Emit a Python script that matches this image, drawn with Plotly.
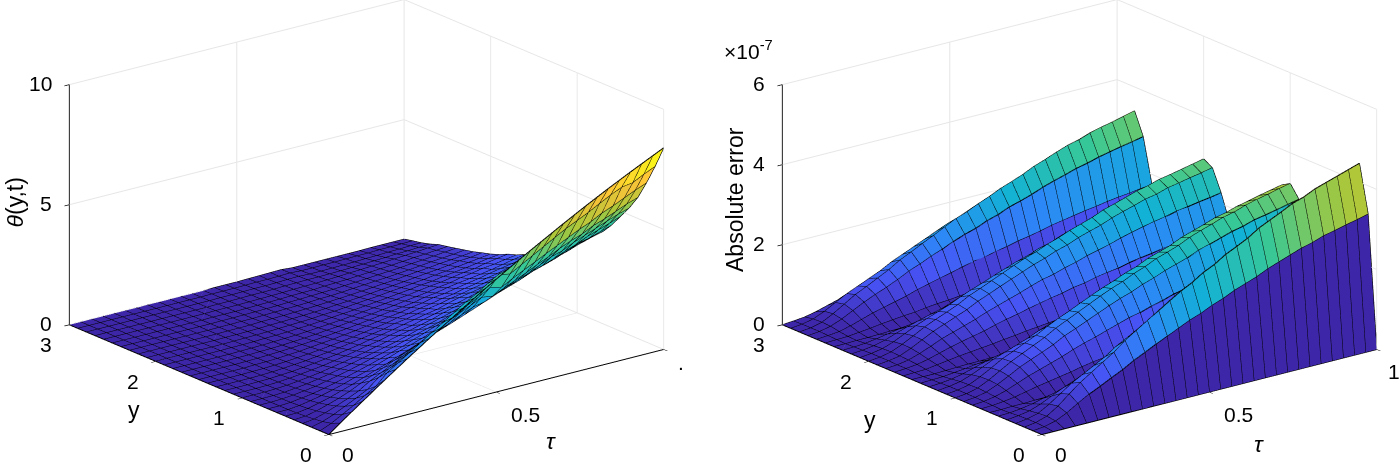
import numpy as np
import plotly.graph_objects as go

tau = [0, 0.0333, 0.0667, 0.1, 0.1333, 0.1667, 0.2, 0.2333, 0.2667, 0.3, 0.3333, 0.3667, 0.4, 0.4333, 0.4667, 0.5,
       0.5333, 0.5667, 0.6, 0.6333, 0.6667, 0.7, 0.7333, 0.7667, 0.8, 0.8333, 0.8667, 0.9, 0.9333, 0.9667, 1]
y = [0, 0.1, 0.2, 0.3, 0.4, 0.5, 0.6, 0.7, 0.8, 0.9, 1, 1.1, 1.2, 1.3, 1.4, 1.5,
     1.6, 1.7, 1.8, 1.9, 2, 2.1, 2.2, 2.3, 2.4, 2.5, 2.6, 2.7, 2.8, 2.9, 3]

# theta(y,t): one row per tau, one column per y
theta = [
    [0]*31,
    [.35,.19,.11,.06,.03,.01]+[0]*25,
    [.69,.44,.29,.2,.13,.08,.05,.03,.02,.01]+[0]*21,
    [1.02,.7,.51,.37,.27,.19,.13,.09,.06,.03,.02,.01,.01]+[0]*18,
    [1.35,.99,.73,.55,.42,.31,.23,.16,.12,.08,.05,.03,.02,.01,.01]+[0]*16,
    [1.68,1.26,.97,.76,.6,.46,.35,.26,.19,.14,.1,.07,.05,.03,.02,.02,.01,.01]+[0]*13,
    [2.0,1.7,1.35,1.05,.82,.61,.48,.37,.29,.22,.16,.12,.08,.06,.04,.03,.02,.01,.01,.01]+[0]*11,
    [2.32,2.0,1.62,1.28,1.02,.78,.63,.49,.39,.31,.23,.18,.13,.1,.07,.05,.04,.03,.02,.01,.01,.01]+[0]*9,
    [2.63,2.3,1.88,1.5,1.22,.95,.76,.62,.5,.41,.32,.24,.19,.14,.11,.08,.06,.04,.03,.02,.02,.01,.01,.01]+[0]*7,
    [2.94,2.6,2.12,1.75,1.42,1.1,.93,.75,.62,.51,.41,.32,.25,.2,.15,.11,.09,.06,.05,.04,.03,.02,.01,.01,.01,.01]+[0]*5,
    [3.24,2.9,2.38,2.0,1.62,1.28,1.09,.89,.75,.62,.5,.41,.32,.26,.2,.16,.12,.09,.07,.05,.04,.03,.02,.02,.01,.01,.01]+[0]*4,
    [3.54,3.2,2.66,2.25,1.82,1.45,1.26,1.03,.87,.73,.6,.5,.4,.32,.26,.21,.16,.12,.09,.07,.06,.05,.04,.02,.02,.01,.01,.01]+[0]*3,
    [3.84,3.5,2.92,2.5,2.05,1.63,1.4,1.17,1.0,.84,.71,.6,.48,.4,.32,.26,.21,.16,.12,.1,.08,.06,.05,.04,.03,.02,.01,.01,.01,.01,0],
    [4.13,3.8,3.18,2.72,2.22,1.82,1.55,1.34,1.14,.95,.81,.68,.58,.47,.38,.32,.26,.21,.16,.12,.1,.08,.06,.05,.04,.03,.02,.02,.01,.01,.01],
    [4.42,4.05,3.45,2.95,2.42,1.99,1.72,1.5,1.28,1.08,.93,.8,.66,.55,.46,.38,.31,.25,.2,.16,.12,.1,.08,.07,.05,.04,.03,.03,.02,.01,.01],
    [4.7,4.35,3.68,3.15,2.62,2.16,1.88,1.67,1.41,1.22,1.03,.89,.75,.63,.53,.45,.37,.31,.24,.2,.16,.12,.1,.08,.07,.05,.04,.03,.03,.02,.01],
    [4.98,4.62,3.95,3.38,2.82,2.34,2.04,1.82,1.54,1.34,1.15,.97,.85,.75,.61,.52,.43,.36,.29,.24,.19,.15,.12,.1,.08,.07,.05,.04,.03,.03,.02],
    [5.25,4.54,3.83,3.31,2.91,2.52,2.2,1.94,1.71,1.47,1.26,1.1,.95,.81,.71,.59,.5,.41,.35,.28,.23,.19,.15,.13,.1,.08,.07,.06,.04,.03,.03],
    [5.52,4.8,4.08,3.53,3.09,2.7,2.37,2.1,1.85,1.6,1.41,1.21,1.05,.91,.77,.66,.57,.47,.4,.33,.28,.22,.18,.14,.12,.09,.08,.07,.06,.04,.04],
    [5.78,5.06,4.31,3.73,3.29,2.89,2.54,2.25,2.02,1.73,1.53,1.33,1.13,1.01,.87,.75,.62,.53,.46,.38,.32,.26,.21,.17,.14,.12,.09,.08,.07,.06,.05],
    [6.04,5.32,4.53,3.93,3.47,3.05,2.72,2.39,2.14,1.87,1.63,1.42,1.27,1.09,.94,.82,.69,.6,.51,.43,.36,.3,.25,.21,.17,.14,.11,.08,.05,.03,.01],
    [6.3,5.58,4.76,4.16,3.65,3.21,2.87,2.55,2.3,1.98,1.76,1.54,1.39,1.2,1.04,.93,.79,.66,.57,.49,.42,.35,.29,.24,.2,.16,.13,.09,.05,.03,.01],
    [6.55,5.83,4.98,4.36,3.86,3.41,3.01,2.69,2.42,2.16,1.9,1.67,1.47,1.28,1.11,.98,.85,.73,.64,.54,.46,.39,.33,.28,.23,.19,.16,.1,.06,.04,.01],
    [6.8,6.05,5.2,4.59,4.08,3.57,3.2,2.86,2.55,2.28,2.04,1.8,1.56,1.39,1.22,1.07,.95,.82,.71,.61,.52,.44,.37,.31,.27,.22,.18,.12,.07,.04,.01],
    [7.04,6.27,5.42,4.79,4.22,3.73,3.34,3.03,2.71,2.46,2.15,1.9,1.69,1.48,1.3,1.16,1.03,.88,.76,.65,.56,.49,.42,.35,.3,.25,.21,.14,.08,.05,.01],
    [7.28,6.52,5.61,4.95,4.44,3.93,3.49,3.13,2.84,2.58,2.26,2.04,1.78,1.6,1.42,1.24,1.09,.98,.84,.73,.63,.55,.47,.39,.33,.28,.23,.16,.1,.06,.01],
    [7.51,6.76,5.86,5.18,4.62,4.09,3.68,3.3,2.97,2.7,2.4,2.14,1.92,1.69,1.5,1.34,1.16,1.05,.92,.79,.68,.59,.51,.44,.38,.32,.27,.18,.11,.06,.01],
    [7.74,6.97,6.04,5.34,4.8,4.3,3.87,3.44,3.13,2.83,2.55,2.24,2.05,1.78,1.63,1.43,1.24,1.14,.97,.85,.74,.65,.57,.49,.41,.36,.3,.21,.13,.08,.02],
    [7.96,7.04,6.25,5.53,4.98,4.46,3.98,3.62,3.26,2.95,2.67,2.39,2.15,1.87,1.67,1.51,1.33,1.19,1.07,.92,.8,.72,.61,.53,.46,.39,.33,.22,.14,.08,.02],
    [8.18,7.28,6.46,5.73,5.15,4.62,4.13,3.76,3.39,3.07,2.78,2.49,2.25,2.0,1.8,1.6,1.43,1.27,1.15,1.0,.86,.75,.65,.57,.51,.43,.37,.25,.16,.09,.02],
    [8.4,7.48,6.64,5.88,5.29,4.79,4.28,3.86,3.53,3.19,2.94,2.6,2.35,2.1,1.89,1.68,1.51,1.34,1.22,1.05,.92,.82,.71,.63,.55,.47,.4,.27,.17,.1,.02],
]

# absolute error, in units of 1e-7
abs_error = [
    [0]*31,
    [0,.03,.04,.04,.03,.01,0,.01,.02,.03,.03,.03,.03,.02,.01,0,.01,.02,.02,.03,.03,.03,.02,.01,0,.01,.02,.03,.03,.03,.02],
    [0,.1,.13,.11,.08,.04,.01,.04,.07,.09,.1,.09,.08,.05,.02,0,.02,.05,.07,.08,.09,.08,.06,.03,.01,.02,.05,.09,.1,.09,.05],
    [0,.23,.31,.27,.18,.09,.01,.08,.15,.21,.23,.22,.18,.11,.05,.01,.06,.11,.16,.2,.21,.18,.13,.07,.01,.05,.12,.2,.24,.21,.11],
    [0,.4,.54,.46,.31,.16,.02,.14,.26,.35,.39,.37,.3,.19,.08,.02,.1,.19,.27,.34,.35,.31,.23,.12,.02,.08,.21,.34,.41,.36,.19],
    [0,.56,.76,.65,.44,.22,.03,.2,.37,.5,.55,.53,.43,.27,.12,.03,.14,.27,.39,.48,.5,.44,.32,.17,.03,.12,.3,.48,.58,.51,.27],
    [0,.69,.94,.8,.55,.27,.04,.25,.46,.62,.68,.65,.53,.34,.15,.03,.17,.34,.48,.59,.62,.55,.4,.21,.04,.15,.37,.6,.71,.63,.34],
    [0,.83,1.12,.95,.65,.33,.05,.3,.55,.73,.81,.78,.63,.4,.18,.04,.2,.4,.57,.7,.73,.65,.48,.25,.05,.18,.44,.71,.85,.75,.4],
    [0,.96,1.3,1.1,.75,.38,.06,.35,.64,.85,.94,.9,.73,.46,.2,.04,.23,.46,.66,.81,.85,.75,.55,.29,.06,.2,.51,.83,.99,.87,.46],
    [0,1.12,1.52,1.29,.88,.44,.07,.41,.75,1.0,1.1,1.05,.85,.54,.24,.05,.27,.54,.77,.95,1.0,.88,.65,.34,.07,.24,.6,.97,1.16,1.02,.54],
    [0,1.25,1.7,1.44,.99,.49,.08,.46,.84,1.11,1.23,1.18,.95,.61,.27,.06,.3,.61,.86,1.06,1.11,.99,.72,.38,.08,.27,.67,1.08,1.29,1.14,.61],
    [0,1.39,1.88,1.6,1.09,.55,.08,.5,.92,1.23,1.36,1.3,1.05,.67,.29,.06,.34,.67,.95,1.18,1.23,1.09,.8,.42,.08,.29,.74,1.2,1.43,1.26,.67],
    [0,1.52,2.06,1.75,1.2,.6,.09,.55,1.01,1.35,1.49,1.43,1.15,.74,.32,.07,.37,.74,1.04,1.29,1.35,1.2,.87,.46,.09,.32,.81,1.31,1.56,1.38,.74],
    [0,1.65,2.24,1.9,1.3,.65,.1,.6,1.1,1.47,1.62,1.55,1.25,.8,.35,.08,.4,.8,1.14,1.4,1.47,1.3,.95,.5,.1,.35,.88,1.43,1.7,1.5,.8],
    [0,1.78,2.41,2.05,1.4,.7,.11,.65,1.19,1.58,1.74,1.67,1.35,.86,.38,.08,.43,.86,1.23,1.51,1.58,1.4,1.03,.54,.11,.38,.95,1.54,1.84,1.62,.86],
    [0,1.88,2.55,2.17,1.48,.74,.11,.68,1.25,1.67,1.84,1.77,1.43,.91,.4,.09,.46,.91,1.29,1.6,1.67,1.48,1.08,.57,.11,.4,1.0,1.62,1.94,1.71,.91],
    [0,2.01,2.73,2.32,1.59,.79,.12,.73,1.34,1.79,1.97,1.89,1.53,.98,.43,.09,.49,.98,1.38,1.71,1.79,1.59,1.16,.61,.12,.43,1.07,1.74,2.07,1.83,.98],
    [0,2.11,2.86,2.43,1.66,.83,.13,.77,1.41,1.88,2.07,1.98,1.6,1.02,.45,.1,.51,1.02,1.45,1.79,1.88,1.66,1.22,.64,.13,.45,1.12,1.82,2.18,1.92,1.02],
    [0,2.24,3.04,2.58,1.77,.88,.14,.82,1.5,1.99,2.2,2.11,1.7,1.09,.48,.1,.54,1.09,1.54,1.9,1.99,1.77,1.29,.68,.14,.48,1.19,1.94,2.31,2.04,1.09],
    [0,2.34,3.17,2.7,1.85,.92,.14,.85,1.56,2.08,2.29,2.2,1.78,1.14,.5,.11,.57,1.14,1.61,1.99,2.08,1.85,1.35,.71,.14,.5,1.24,2.02,2.41,2.13,1.14],
    [0,2.44,3.31,2.81,1.92,.96,.15,.89,1.63,2.17,2.39,2.29,1.85,1.18,.52,.11,.59,1.18,1.68,2.07,2.17,1.92,1.41,.74,.15,.52,1.3,2.11,2.52,2.22,1.18],
    [0,2.57,3.49,2.96,2.03,1.01,.16,.94,1.72,2.29,2.52,2.42,1.95,1.25,.55,.12,.62,1.25,1.77,2.18,2.29,2.03,1.48,.78,.16,.55,1.37,2.22,2.65,2.34,1.25],
    [0,2.67,3.62,3.08,2.11,1.05,.16,.97,1.78,2.37,2.62,2.51,2.03,1.3,.57,.12,.65,1.3,1.84,2.27,2.37,2.11,1.54,.81,.16,.57,1.42,2.31,2.75,2.43,1.3],
    [0,2.77,3.75,3.19,2.18,1.09,.17,1.01,1.85,2.46,2.71,2.6,2.1,1.34,.59,.13,.67,1.34,1.91,2.35,2.46,2.18,1.6,.84,.17,.59,1.47,2.39,2.86,2.52,1.34],
    [0,2.87,3.89,3.31,2.26,1.13,.17,1.04,1.91,2.55,2.81,2.7,2.18,1.39,.61,.13,.7,1.39,1.97,2.44,2.55,2.26,1.65,.87,.17,.61,1.52,2.48,2.96,2.61,1.39],
    [0,2.94,3.98,3.38,2.31,1.16,.18,1.07,1.96,2.61,2.87,2.76,2.23,1.42,.62,.13,.71,1.42,2.02,2.49,2.61,2.31,1.69,.89,.18,.62,1.56,2.54,3.03,2.67,1.42],
    [0,3.04,4.11,3.5,2.39,1.2,.18,1.1,2.02,2.7,2.97,2.85,2.3,1.47,.64,.14,.74,1.47,2.09,2.58,2.7,2.39,1.75,.92,.18,.64,1.61,2.62,3.13,2.76,1.47],
    [0,3.1,4.2,3.57,2.44,1.22,.19,1.13,2.07,2.75,3.04,2.91,2.35,1.5,.66,.14,.75,1.5,2.13,2.63,2.75,2.44,1.79,.94,.19,.66,1.65,2.68,3.2,2.82,1.5],
    [0,3.17,4.29,3.65,2.5,1.25,.19,1.15,2.11,2.81,3.1,2.98,2.4,1.54,.67,.14,.77,1.54,2.18,2.69,2.81,2.5,1.82,.96,.19,.67,1.68,2.74,3.26,2.88,1.54],
    [0,3.23,4.38,3.72,2.55,1.27,.2,1.18,2.16,2.87,3.17,3.04,2.45,1.57,.69,.15,.78,1.57,2.22,2.74,2.87,2.55,1.86,.98,.2,.69,1.72,2.79,3.33,2.94,1.57],
    [0,3.3,4.47,3.8,2.6,1.3,.2,1.2,2.2,2.93,3.23,3.1,2.5,1.6,.7,.15,.8,1.6,2.27,2.8,2.93,2.6,1.9,1.0,.2,.7,1.75,2.85,3.4,3.0,1.6],
]

parula = [[0, "#3e26a8"], [1/7, "#4852f4"], [2/7, "#2d87f7"], [3/7, "#12b1d6"],
          [4/7, "#37c897"], [5/7, "#abc739"], [6/7, "#fec338"], [1, "#f9fb14"]]

FONT = "Liberation Sans, Arial, sans-serif"
GRID = "#e6e6e6"
TICK_SIZE = 21
LABEL_SIZE = 23


def superficie(fig, cena, z):
    z = np.array(z, dtype=float)
    nt, ny = z.shape
    T, Y = np.meshgrid(tau, y, indexing="ij")
    idx = np.arange(nt*ny).reshape(nt, ny)
    a = idx[:-1, :-1].ravel()
    b = idx[1:, :-1].ravel()
    c = idx[1:, 1:].ravel()
    d = idx[:-1, 1:].ravel()
    # matlab style flat facets: colour of the lower corner
    cor = z[:-1, :-1].ravel()
    fig.add_trace(go.Mesh3d(
        x=T.ravel(), y=Y.ravel(), z=z.ravel(),
        i=np.concatenate([a, a]), j=np.concatenate([b, c]), k=np.concatenate([c, d]),
        intensity=np.concatenate([cor, cor]), intensitymode="cell",
        colorscale=parula, cmin=0, cmax=z.max(), showscale=False, flatshading=True,
        lighting=dict(ambient=1, diffuse=0, specular=0, roughness=1, fresnel=0),
        hoverinfo="skip", scene=cena,
    ))
    lx, ly, lz = [], [], []
    for k in range(nt):
        lx += list(T[k]) + [None]
        ly += list(Y[k]) + [None]
        lz += list(z[k]) + [None]
    for k in range(ny):
        lx += list(T[:, k]) + [None]
        ly += list(Y[:, k]) + [None]
        lz += list(z[:, k]) + [None]
    fig.add_trace(go.Scatter3d(
        x=lx, y=ly, z=lz, mode="lines",
        line=dict(color="black", width=2),
        hoverinfo="skip", showlegend=False, scene=cena,
    ))


def eixo(faixa, vals):
    return dict(
        range=faixa, autorange=False, tickmode="array", tickvals=vals,
        showticklabels=False,
        title=dict(text=""), showbackground=False, showgrid=True, gridcolor=GRID, gridwidth=2,
        zeroline=False, showline=True, linecolor="black", linewidth=2,
        ticks="outside", ticklen=6, tickcolor="black", tickwidth=1.5, showspikes=False,
    )


def rotulo(x, y_, z, texto, dx, dy, anchor="center"):
    return dict(x=x, y=y_, z=z, text=texto, showarrow=False, xshift=dx, yshift=dy,
                xanchor=anchor, yanchor="middle",
                font=dict(family=FONT, size=TICK_SIZE, color="black"))


def cena(dominio, ztop, zvals, xtext):
    notas = [rotulo(0, 3, v, str(v), -15, 1, "right") for v in zvals]
    notas += [rotulo(0, v, 0, str(v), -23, -20) for v in [0, 1, 2, 3]]
    notas.append(rotulo(0, 0, 0, "0", 19, -20))
    notas.append(rotulo(0.5, 0, 0, "0.5", 29, -22))
    notas.append(rotulo(1, 0, 0, xtext, 17, -22 if xtext != "." else -13))
    eye = np.array([-1.158, -1.494, 0.656])
    centro = np.array([0, 0, -0.066])
    return dict(
        domain=dict(x=dominio, y=[0, 1]),
        xaxis=eixo([0, 1], [0, 0.5, 1]),
        yaxis=eixo([0, 3], [0, 1, 2, 3]),
        zaxis=eixo([0, ztop], zvals),
        aspectmode="manual", aspectratio=dict(x=1.83, y=1.83, z=1.098),
        annotations=notas,
        camera=dict(eye=dict(zip("xyz", eye + centro)), center=dict(zip("xyz", centro)),
                    up=dict(x=0, y=0, z=1), projection=dict(type="orthographic")),
    )


fig = go.Figure()
superficie(fig, "scene", theta)
superficie(fig, "scene2", abs_error)

notas = [
    dict(x=14.5/1400, y=1-202/463, text="<i>θ</i>(y,t)", textangle=-90, size=LABEL_SIZE),
    dict(x=735/1400, y=1-200/463, text="Absolute error", textangle=-90, size=LABEL_SIZE),
    dict(x=748/1400, y=1-50/463, text="×10<sup>-7</sup>", textangle=0, size=TICK_SIZE),
    dict(x=134/1400, y=1-410/463, text="y", textangle=0, size=LABEL_SIZE),
    dict(x=870/1400, y=1-420/463, text="y", textangle=0, size=LABEL_SIZE),
    dict(x=551/1400, y=1-441/463, text="<i>τ</i>", textangle=0, size=LABEL_SIZE),
    dict(x=1259/1400, y=1-444/463, text="<i>τ</i>", textangle=0, size=LABEL_SIZE),
]
for n in notas:
    tam = n.pop("size")
    fig.add_annotation(xref="paper", yref="paper", showarrow=False, xanchor="center", yanchor="middle",
                       font=dict(family=FONT, size=tam, color="black"), **n)

fig.update_layout(
    width=1400, height=463, margin=dict(l=0, r=0, t=0, b=0),
    paper_bgcolor="white", showlegend=False,
    scene=cena([0, 0.5236], 10, [0, 5, 10], "."),
    scene2=cena([0.542, 1], 6, [0, 2, 4, 6], "1"),
)
# the browser's default body margin would push the figure 8px off
fig.write_html("out.html", post_script="document.body.style.margin='0';",
               config={"displayModeBar": False})
